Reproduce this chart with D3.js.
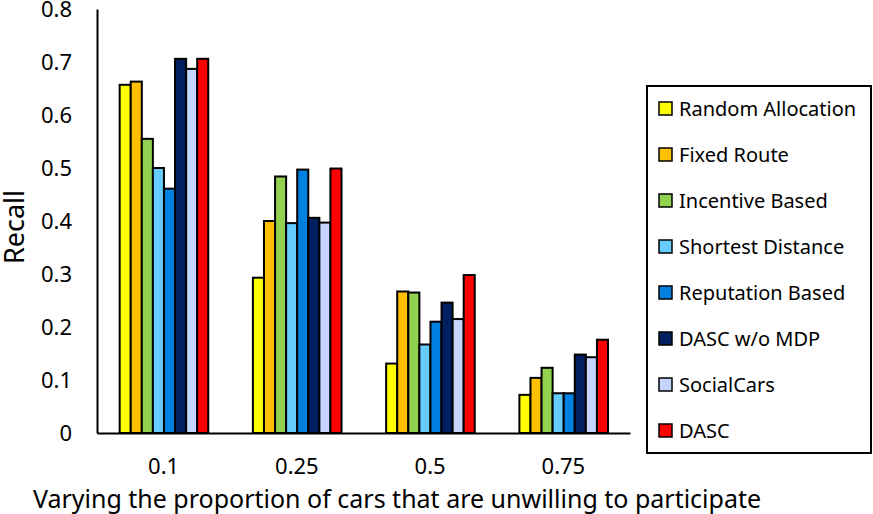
<!DOCTYPE html>
<html>
<head>
<meta charset="utf-8">
<script src="https://cdn.jsdelivr.net/npm/d3@7"></script>
<style>
  body { margin: 0; background: #fff; }
  svg text { font-family: "Noto Sans", sans-serif; fill: #000; }
</style>
</head>
<body>
<div id="grafico"></div>
<script>
// dados
const categorias = ["0.1", "0.25", "0.5", "0.75"];
const series = ["Random Allocation", "Fixed Route", "Incentive Based", "Shortest Distance",
    "Reputation Based", "DASC w/o MDP", "SocialCars", "DASC"];
const randomAllocation = [0.657, 0.293, 0.131, 0.072];
const fixedRoute       = [0.663, 0.400, 0.267, 0.104];
const incentiveBased   = [0.555, 0.484, 0.265, 0.123];
const shortestDistance = [0.500, 0.396, 0.167, 0.075];
const reputationBased  = [0.461, 0.497, 0.210, 0.075];
const dascSemMdp       = [0.706, 0.406, 0.246, 0.148];
const socialCars       = [0.687, 0.397, 0.215, 0.143];
const dasc             = [0.706, 0.499, 0.298, 0.176];
const valores = [randomAllocation, fixedRoute, incentiveBased, shortestDistance,
    reputationBased, dascSemMdp, socialCars, dasc];
const cores = ["#FFFF00", "#FFC000", "#92D050", "#66CCFF", "#0080E0", "#002060", "#C5D5FF", "#FF0000"];
const ticksY = [0, 0.1, 0.2, 0.3, 0.4, 0.5, 0.6, 0.7, 0.8];

const largura = 873, altura = 514;
const svg = d3.select("#grafico").append("svg")
    .attr("width", largura)
    .attr("height", altura);

// escalas
const x = d3.scaleBand().domain(categorias).range([97, 630]);
const xSerie = d3.scaleBand().domain(series)
    .range([x.bandwidth() * 0.17, x.bandwidth() * 0.835]);
const y = d3.scaleLinear().domain([0, 0.8]).range([433, 9]);

// barras
const grupos = svg.selectAll(".grupo")
    .data(categorias)
    .enter()
    .append("g")
    .attr("transform", d => `translate(${x(d)},0)`);

grupos.selectAll("rect")
    .data((c, i) => series.map((s, j) => ({ serie: s, v: valores[j][i], cor: cores[j] })))
    .enter()
    .append("rect")
    .attr("x", d => xSerie(d.serie))
    .attr("width", xSerie.bandwidth())
    .attr("y", d => y(d.v))
    .attr("height", d => y(0) - y(d.v))
    .attr("fill", d => d.cor)
    .attr("stroke", "#000")
    .attr("stroke-width", 2);

// eixo y
const eixoY = svg.append("g")
    .attr("transform", "translate(97,0)")
    .call(d3.axisLeft(y).tickValues(ticksY).tickSize(0).tickPadding(25).tickFormat(d => d === 0 ? "0" : d3.format(".1f")(d)));
eixoY.select(".domain").attr("stroke", "#000").attr("stroke-width", 2);
eixoY.selectAll("text").style("font-size", "22px").style("font-family", "'Noto Sans', sans-serif");

// eixo x
const eixoX = svg.append("g")
    .attr("transform", "translate(0,433)")
    .call(d3.axisBottom(x).tickSize(0).tickPadding(25));
eixoX.select(".domain").attr("stroke", "#000").attr("stroke-width", 2);
eixoX.selectAll("text").style("font-size", "22px").style("font-family", "'Noto Sans', sans-serif");

// titulos dos eixos
svg.append("text")
    .attr("x", 397)
    .attr("y", 508)
    .attr("text-anchor", "middle")
    .style("font-size", "25px")
    .text("Varying the proportion of cars that are unwilling to participate");

svg.append("text")
    .attr("transform", "translate(24,227) rotate(-90)")
    .attr("text-anchor", "middle")
    .style("font-size", "27px")
    .text("Recall");

// legenda
const legenda = svg.append("g");
legenda.append("rect")
    .attr("x", 647).attr("y", 86)
    .attr("width", 224).attr("height", 367)
    .attr("fill", "#fff").attr("stroke", "#000").attr("stroke-width", 2);

const itens = legenda.selectAll(".item")
    .data(series)
    .enter()
    .append("g")
    .attr("transform", (d, i) => `translate(659,${109 + i * 46})`);
itens.append("rect")
    .attr("x", 0).attr("y", -7)
    .attr("width", 13).attr("height", 13)
    .attr("fill", (d, i) => cores[i])
    .attr("stroke", "#000").attr("stroke-width", 1.5);
itens.append("text")
    .attr("x", 20).attr("y", 0)
    .attr("dy", "0.35em")
    .style("font-size", "20px")
    .text(d => d);
</script>
</body>
</html>
